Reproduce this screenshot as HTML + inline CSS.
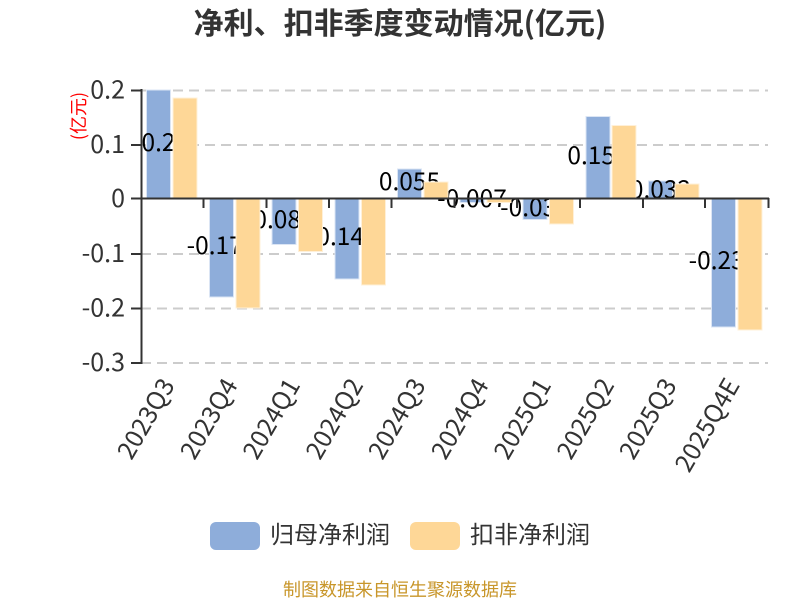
<!DOCTYPE html>
<html><head><meta charset="utf-8">
<style>
html,body{margin:0;padding:0;background:#fff}
svg{display:block}
text{font-family:"Noto Sans CJK SC","Liberation Sans",sans-serif}
</style></head>
<body>
<svg width="800" height="600" viewBox="0 0 800 600" xmlns="http://www.w3.org/2000/svg">
<rect width="800" height="600" fill="#fff"/>
<text x="400" y="34" text-anchor="middle" font-size="30" font-weight="700" fill="#333">净利、扣非季度变动情况(亿元)</text>
<g stroke="#ccc" stroke-width="2" stroke-dasharray="10 6" fill="none">
<line x1="141" y1="90.5" x2="768" y2="90.5"/>
<line x1="141" y1="145" x2="768" y2="145"/>
<line x1="141" y1="254" x2="768" y2="254"/>
<line x1="141" y1="308.500" x2="768" y2="308.500"/>
<line x1="141" y1="363" x2="768" y2="363"/>
</g>
<g fill="#8eadda" stroke="#dbe5f4" stroke-width="1">
<rect x="146.500" y="90" width="24" height="108.500"/>
<rect x="209.500" y="198.500" width="24" height="98.500"/>
<rect x="272" y="198.500" width="24" height="46"/>
<rect x="335" y="198.500" width="24" height="80.500"/>
<rect x="397.500" y="169" width="24" height="29.500"/>
<rect x="460" y="198.500" width="24" height="4"/>
<rect x="523" y="198.500" width="24" height="21"/>
<rect x="586" y="116.500" width="24" height="82"/>
<rect x="648.500" y="181" width="24" height="17.500"/>
<rect x="711.500" y="198.500" width="24" height="128.500"/>
</g>
<g font-size="24.500" fill="#000" text-anchor="middle">
<text x="158.500" y="151">0.2</text>
<text x="221.500" y="254">-0.178</text>
<text x="284" y="228">0.084</text>
<text x="347" y="245">0.147</text>
<text x="409.500" y="190">0.055</text>
<text x="472" y="207">-0.007</text>
<text x="535" y="216">-0.037</text>
<text x="598" y="164">0.153</text>
<text x="660.500" y="198">0.032</text>
<text x="723.500" y="269">-0.236</text>
</g>
<g fill="#fed797" stroke="#fff0d8" stroke-width="1">
<rect x="173" y="98" width="24" height="100.500"/>
<rect x="236" y="198.500" width="24" height="109.500"/>
<rect x="298.500" y="198.500" width="24" height="53"/>
<rect x="361.500" y="198.500" width="24" height="86.500"/>
<rect x="424" y="182" width="24" height="16.500"/>
<rect x="487" y="198.500" width="24" height="4"/>
<rect x="549.500" y="198.500" width="24" height="25.500"/>
<rect x="612" y="125.500" width="24" height="73"/>
<rect x="675" y="184" width="24" height="14.500"/>
<rect x="738" y="198.500" width="24" height="131.500"/>
</g>
<g stroke="#333" stroke-width="2" fill="none">
<line x1="141.500" y1="89" x2="141.500" y2="364"/>
<line x1="131" y1="90.500" x2="141" y2="90.500"/>
<line x1="131" y1="145" x2="141" y2="145"/>
<line x1="131" y1="198.500" x2="141" y2="198.500"/>
<line x1="131" y1="254" x2="141" y2="254"/>
<line x1="131" y1="308.500" x2="141" y2="308.500"/>
<line x1="131" y1="363" x2="141" y2="363"/>
<line x1="141" y1="198.500" x2="769" y2="198.500"/>
<line x1="203.500" y1="198" x2="203.500" y2="208"/>
<line x1="266.500" y1="198" x2="266.500" y2="208"/>
<line x1="329" y1="198" x2="329" y2="208"/>
<line x1="391.500" y1="198" x2="391.500" y2="208"/>
<line x1="454.500" y1="198" x2="454.500" y2="208"/>
<line x1="517" y1="198" x2="517" y2="208"/>
<line x1="580" y1="198" x2="580" y2="208"/>
<line x1="643" y1="198" x2="643" y2="208"/>
<line x1="705" y1="198" x2="705" y2="208"/>
<line x1="768.500" y1="198" x2="768.500" y2="208"/>
</g>
<g font-size="25" fill="#333" text-anchor="end">
<text x="125" y="98.500">0.2</text>
<text x="125" y="153">0.1</text>
<text x="125" y="207">0</text>
<text x="125" y="262">-0.1</text>
<text x="125" y="316.500">-0.2</text>
<text x="125" y="371">-0.3</text>
</g>
<text transform="translate(85,116) rotate(-90)" font-size="18" fill="#f00" text-anchor="middle">(亿元)</text>
<g font-size="25" fill="#333" text-anchor="end">
<text transform="translate(175.500,385) rotate(-60)">2023Q3</text>
<text transform="translate(238.500,385) rotate(-60)">2023Q4</text>
<text transform="translate(301,385) rotate(-60)">2024Q1</text>
<text transform="translate(364,385) rotate(-60)">2024Q2</text>
<text transform="translate(426.500,385) rotate(-60)">2024Q3</text>
<text transform="translate(489.500,385) rotate(-60)">2024Q4</text>
<text transform="translate(552,385) rotate(-60)">2025Q1</text>
<text transform="translate(615,385) rotate(-60)">2025Q2</text>
<text transform="translate(677.500,385) rotate(-60)">2025Q3</text>
<text transform="translate(740.500,385) rotate(-60)">2025Q4E</text>
</g>
<rect x="210" y="522" width="50" height="28" rx="6" fill="#8eadda"/>
<text x="270" y="543" font-size="24" fill="#333">归母净利润</text>
<rect x="410" y="522" width="50" height="28" rx="6" fill="#fed797"/>
<text x="470" y="543" font-size="24" fill="#333">扣非净利润</text>
<text x="400" y="596" font-size="18" fill="#c8962a" text-anchor="middle">制图数据来自恒生聚源数据库</text>
</svg>
</body></html>
